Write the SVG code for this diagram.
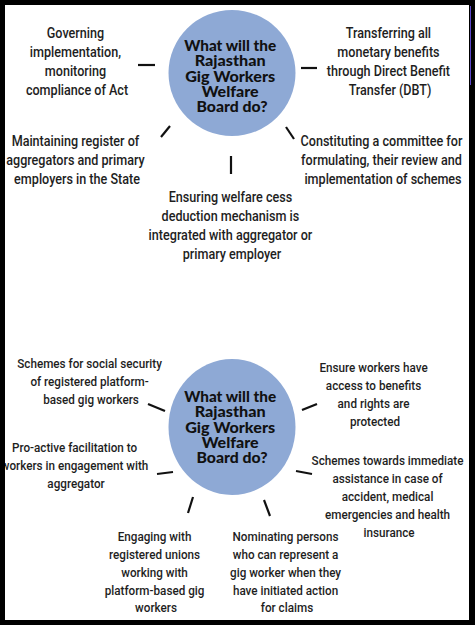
<svg xmlns="http://www.w3.org/2000/svg" width="475" height="625" viewBox="0 0 475 625">
<style>
.bg{fill:#ffffff}
.hub{fill:#8ea9d5}
.title{font-family:Lato,"Noto Sans",sans-serif;font-weight:900;font-size:15.5px;fill:#111;text-anchor:middle}
.t{font-family:Roboto,"Liberation Sans",sans-serif;font-weight:500;font-size:14px;fill:#1e1e1e;text-anchor:middle}
.s{font-family:Roboto,"Liberation Sans",sans-serif;font-weight:500;font-size:13px;fill:#1e1e1e;text-anchor:middle}
.c{stroke:#111;stroke-width:2.2;fill:none}
</style>
<rect class="bg" x="0" y="0" width="475" height="625"/>

<g id="hub1">
<ellipse class="hub" cx="232" cy="73" rx="63.5" ry="63"/>
<text class="title">
<tspan x="232" y="51" textLength="92" lengthAdjust="spacingAndGlyphs">What will the</tspan>
<tspan x="232" y="66" textLength="71" lengthAdjust="spacingAndGlyphs">Rajasthan</tspan>
<tspan x="232" y="82" textLength="90" lengthAdjust="spacingAndGlyphs">Gig Workers</tspan>
<tspan x="232" y="97" textLength="57" lengthAdjust="spacingAndGlyphs">Welfare</tspan>
<tspan x="232" y="112" textLength="71" lengthAdjust="spacingAndGlyphs">Board do?</tspan>
</text>
</g>

<g id="n-governing">
<text class="t" transform="translate(77 0) scale(0.9 1)">
<tspan x="0" y="38">Governing</tspan>
<tspan x="0" y="57">implementation,</tspan>
<tspan x="0" y="76">monitoring</tspan>
<tspan x="0" y="95">compliance of Act</tspan>
</text>
</g>

<g id="n-register">
<text class="t" transform="translate(77 0) scale(0.9 1)">
<tspan x="0" y="146">Maintaining register of</tspan>
<tspan x="0" y="165">aggregators and primary</tspan>
<tspan x="0" y="184">employers in the State</tspan>
</text>
</g>

<g id="n-cess">
<text class="t" transform="translate(232 0) scale(0.9 1)">
<tspan x="0" y="202">Ensuring welfare cess</tspan>
<tspan x="0" y="221">deduction mechanism is</tspan>
<tspan x="0" y="240">integrated with aggregator or</tspan>
<tspan x="0" y="259">primary employer</tspan>
</text>
</g>

<g id="n-dbt">
<text class="t" transform="translate(390 0) scale(0.9 1)">
<tspan x="0" y="38">Transferring all</tspan>
<tspan x="0" y="57">monetary benefits</tspan>
<tspan x="0" y="76">through Direct Benefit</tspan>
<tspan x="0" y="95">Transfer (DBT)</tspan>
</text>
</g>

<g id="n-committee">
<text class="t" transform="translate(383 0) scale(0.9 1)">
<tspan x="0" y="146">Constituting a committee for</tspan>
<tspan x="0" y="165">formulating, their review and</tspan>
<tspan x="0" y="184">implementation of schemes</tspan>
</text>
</g>

<g id="hub2">
<ellipse class="hub" cx="232" cy="427" rx="63.5" ry="68"/>
<text class="title">
<tspan x="232" y="402" textLength="92" lengthAdjust="spacingAndGlyphs">What will the</tspan>
<tspan x="232" y="417" textLength="71" lengthAdjust="spacingAndGlyphs">Rajasthan</tspan>
<tspan x="232" y="433" textLength="90" lengthAdjust="spacingAndGlyphs">Gig Workers</tspan>
<tspan x="232" y="448" textLength="57" lengthAdjust="spacingAndGlyphs">Welfare</tspan>
<tspan x="232" y="463" textLength="71" lengthAdjust="spacingAndGlyphs">Board do?</tspan>
</text>
</g>

<g id="n-social">
<text class="s" transform="translate(91 0) scale(0.9 1)">
<tspan x="0" y="368">Schemes for social security</tspan>
<tspan x="0" y="386">of registered platform-</tspan>
<tspan x="0" y="404">based gig workers</tspan>
</text>
</g>

<g id="n-proactive">
<text class="s" transform="translate(76 0) scale(0.9 1)">
<tspan x="0" y="452">Pro-active facilitation to</tspan>
<tspan x="0" y="470">workers in engagement with</tspan>
<tspan x="0" y="488">aggregator</tspan>
</text>
</g>

<g id="n-access">
<text class="s" transform="translate(375 0) scale(0.9 1)">
<tspan x="0" y="372">Ensure workers have</tspan>
<tspan x="0" y="390">access to benefits</tspan>
<tspan x="0" y="408">and rights are</tspan>
<tspan x="0" y="426">protected</tspan>
</text>
</g>

<g id="n-immediate">
<text class="s" transform="translate(389 0) scale(0.9 1)">
<tspan x="0" y="465">Schemes towards immediate</tspan>
<tspan x="0" y="483">assistance in case of</tspan>
<tspan x="0" y="501">accident, medical</tspan>
<tspan x="0" y="519">emergencies and health</tspan>
<tspan x="0" y="537">insurance</tspan>
</text>
</g>

<g id="n-unions">
<text class="s" transform="translate(156 0) scale(0.9 1)">
<tspan x="0" y="541">Engaging with</tspan>
<tspan x="0" y="559">registered unions</tspan>
<tspan x="0" y="577">working with</tspan>
<tspan x="0" y="595">platform-based gig</tspan>
<tspan x="0" y="612">workers</tspan>
</text>
</g>

<g id="n-nominating">
<text class="s" transform="translate(287 0) scale(0.9 1)">
<tspan x="0" y="541">Nominating persons</tspan>
<tspan x="0" y="559">who can represent a</tspan>
<tspan x="0" y="577">gig worker when they</tspan>
<tspan x="0" y="595">have initiated action</tspan>
<tspan x="0" y="612">for claims</tspan>
</text>
</g>

<g id="connectors">
<line class="c" x1="138" y1="65" x2="155" y2="65"/>
<line class="c" x1="161" y1="137" x2="170" y2="126"/>
<line class="c" x1="231" y1="156" x2="231" y2="174"/>
<line class="c" x1="301" y1="68" x2="317" y2="68"/>
<line class="c" x1="286" y1="127" x2="294" y2="139"/>
<line class="c" x1="148" y1="404" x2="165" y2="411"/>
<line class="c" x1="157" y1="474" x2="173" y2="472"/>
<line class="c" x1="302" y1="410" x2="317" y2="404"/>
<line class="c" x1="296" y1="471" x2="312" y2="474"/>
<line class="c" x1="264" y1="500" x2="270" y2="516"/>
<line class="c" x1="193" y1="497" x2="188" y2="513"/>
</g>

<path fill="#000" fill-rule="evenodd" d="M0 0H475V625H0Z M5 5V620H469V5Z"/>
<line x1="470.5" y1="6" x2="470.5" y2="85" stroke="#5b45c9" stroke-width="1"/>
</svg>
